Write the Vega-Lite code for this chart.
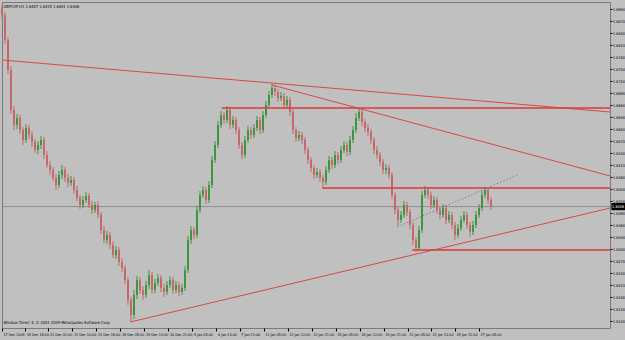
{
  "$schema": "https://vega.github.io/schema/vega-lite/v6.json",
  "width": 608,
  "height": 326,
  "autosize": {"type": "none"},
  "padding": {"left": 2, "top": 2, "right": 15, "bottom": 12},
  "background": "#c0c0c0",
  "config": {
    "view": {"stroke": "#7a7a7a", "fill": "#c0c0c0"},
    "font": "Liberation Sans"
  },
  "resolve": {"axis": {"x": "independent", "y": "independent"}},
  "datasets": {
    "bars": [
      {"i":0,"o":1.69025,"h":1.691,"l":1.6875,"c":1.6885},
      {"i":4,"o":1.6885,"h":1.68925,"l":1.68125,"c":1.68225},
      {"i":8,"o":1.68225,"h":1.683,"l":1.67375,"c":1.67475},
      {"i":12,"o":1.67475,"h":1.67575,"l":1.66375,"c":1.66475},
      {"i":16,"o":1.66475,"h":1.66575,"l":1.65975,"c":1.661},
      {"i":20,"o":1.661,"h":1.66375,"l":1.66,"c":1.66275},
      {"i":24,"o":1.66275,"h":1.6635,"l":1.65875,"c":1.65975},
      {"i":28,"o":1.65975,"h":1.6605,"l":1.656,"c":1.65725},
      {"i":32,"o":1.65725,"h":1.66125,"l":1.6565,"c":1.66025},
      {"i":36,"o":1.66025,"h":1.661,"l":1.6575,"c":1.6585},
      {"i":40,"o":1.6585,"h":1.6595,"l":1.6555,"c":1.65675},
      {"i":44,"o":1.65675,"h":1.6575,"l":1.654,"c":1.65475},
      {"i":48,"o":1.65475,"h":1.657,"l":1.65375,"c":1.656},
      {"i":52,"o":1.656,"h":1.65825,"l":1.655,"c":1.65725},
      {"i":56,"o":1.65725,"h":1.658,"l":1.6525,"c":1.6535},
      {"i":60,"o":1.6535,"h":1.6545,"l":1.65025,"c":1.651},
      {"i":64,"o":1.651,"h":1.652,"l":1.6485,"c":1.64975},
      {"i":68,"o":1.64975,"h":1.6505,"l":1.647,"c":1.64775},
      {"i":72,"o":1.64775,"h":1.64875,"l":1.64475,"c":1.646},
      {"i":76,"o":1.646,"h":1.6495,"l":1.64525,"c":1.6485},
      {"i":80,"o":1.6485,"h":1.651,"l":1.6475,"c":1.64975},
      {"i":84,"o":1.64975,"h":1.6505,"l":1.64675,"c":1.64775},
      {"i":88,"o":1.64775,"h":1.64875,"l":1.6455,"c":1.6465},
      {"i":92,"o":1.6465,"h":1.64825,"l":1.64575,"c":1.64725},
      {"i":96,"o":1.64725,"h":1.648,"l":1.64375,"c":1.64475},
      {"i":100,"o":1.64475,"h":1.64575,"l":1.642,"c":1.64275},
      {"i":104,"o":1.64275,"h":1.6435,"l":1.64,"c":1.641},
      {"i":108,"o":1.641,"h":1.64325,"l":1.64025,"c":1.64225},
      {"i":112,"o":1.64225,"h":1.64425,"l":1.6415,"c":1.64325},
      {"i":116,"o":1.64325,"h":1.644,"l":1.64025,"c":1.641},
      {"i":120,"o":1.641,"h":1.642,"l":1.63875,"c":1.63975},
      {"i":124,"o":1.63975,"h":1.64175,"l":1.639,"c":1.641},
      {"i":128,"o":1.641,"h":1.642,"l":1.63775,"c":1.6385},
      {"i":132,"o":1.6385,"h":1.63925,"l":1.63375,"c":1.63475},
      {"i":136,"o":1.63475,"h":1.63575,"l":1.6315,"c":1.63225},
      {"i":140,"o":1.63225,"h":1.6345,"l":1.63125,"c":1.6335},
      {"i":144,"o":1.6335,"h":1.63425,"l":1.63,"c":1.631},
      {"i":148,"o":1.631,"h":1.632,"l":1.62775,"c":1.6285},
      {"i":152,"o":1.6285,"h":1.63075,"l":1.6275,"c":1.62975},
      {"i":156,"o":1.62975,"h":1.6305,"l":1.62575,"c":1.62675},
      {"i":160,"o":1.62675,"h":1.62775,"l":1.62425,"c":1.62525},
      {"i":164,"o":1.62525,"h":1.626,"l":1.62125,"c":1.62225},
      {"i":168,"o":1.62225,"h":1.623,"l":1.616,"c":1.61725},
      {"i":172,"o":1.61725,"h":1.618,"l":1.61175,"c":1.6135},
      {"i":176,"o":1.6135,"h":1.61975,"l":1.6125,"c":1.6185},
      {"i":180,"o":1.6185,"h":1.62325,"l":1.6175,"c":1.62225},
      {"i":184,"o":1.62225,"h":1.623,"l":1.61875,"c":1.61975},
      {"i":188,"o":1.61975,"h":1.62075,"l":1.61725,"c":1.6185},
      {"i":192,"o":1.6185,"h":1.622,"l":1.61775,"c":1.621},
      {"i":196,"o":1.621,"h":1.62475,"l":1.62,"c":1.6235},
      {"i":200,"o":1.6235,"h":1.62425,"l":1.61875,"c":1.61975},
      {"i":204,"o":1.61975,"h":1.6225,"l":1.619,"c":1.6215},
      {"i":208,"o":1.6215,"h":1.62375,"l":1.62075,"c":1.62275},
      {"i":212,"o":1.62275,"h":1.6235,"l":1.61925,"c":1.62025},
      {"i":216,"o":1.62025,"h":1.62125,"l":1.618,"c":1.61925},
      {"i":220,"o":1.61925,"h":1.622,"l":1.6185,"c":1.621},
      {"i":224,"o":1.621,"h":1.62325,"l":1.62025,"c":1.62225},
      {"i":228,"o":1.62225,"h":1.623,"l":1.61875,"c":1.61975},
      {"i":232,"o":1.61975,"h":1.622,"l":1.619,"c":1.621},
      {"i":236,"o":1.621,"h":1.62175,"l":1.61825,"c":1.61925},
      {"i":240,"o":1.61925,"h":1.62125,"l":1.6185,"c":1.62025},
      {"i":244,"o":1.62025,"h":1.62575,"l":1.6195,"c":1.62475},
      {"i":248,"o":1.62475,"h":1.63325,"l":1.624,"c":1.63225},
      {"i":252,"o":1.63225,"h":1.63575,"l":1.63125,"c":1.63475},
      {"i":256,"o":1.63475,"h":1.6355,"l":1.6325,"c":1.6335},
      {"i":260,"o":1.6335,"h":1.64075,"l":1.63275,"c":1.63975},
      {"i":264,"o":1.63975,"h":1.6445,"l":1.639,"c":1.6435},
      {"i":268,"o":1.6435,"h":1.64575,"l":1.64275,"c":1.64475},
      {"i":272,"o":1.64475,"h":1.6455,"l":1.64125,"c":1.64225},
      {"i":276,"o":1.64225,"h":1.647,"l":1.6415,"c":1.646},
      {"i":280,"o":1.646,"h":1.65325,"l":1.64525,"c":1.65225},
      {"i":284,"o":1.65225,"h":1.657,"l":1.6515,"c":1.656},
      {"i":288,"o":1.656,"h":1.662,"l":1.65525,"c":1.661},
      {"i":292,"o":1.661,"h":1.6645,"l":1.66025,"c":1.6635},
      {"i":296,"o":1.6635,"h":1.66425,"l":1.66125,"c":1.66225},
      {"i":300,"o":1.66225,"h":1.66575,"l":1.6615,"c":1.66475},
      {"i":304,"o":1.66475,"h":1.6655,"l":1.66,"c":1.661},
      {"i":308,"o":1.661,"h":1.66325,"l":1.66025,"c":1.66225},
      {"i":312,"o":1.66225,"h":1.663,"l":1.65875,"c":1.65975},
      {"i":316,"o":1.65975,"h":1.6605,"l":1.655,"c":1.656},
      {"i":320,"o":1.656,"h":1.65675,"l":1.6525,"c":1.6535},
      {"i":324,"o":1.6535,"h":1.65825,"l":1.65275,"c":1.65725},
      {"i":328,"o":1.65725,"h":1.66075,"l":1.6565,"c":1.65975},
      {"i":332,"o":1.65975,"h":1.6605,"l":1.6575,"c":1.6585},
      {"i":336,"o":1.6585,"h":1.66125,"l":1.65775,"c":1.66025},
      {"i":340,"o":1.66025,"h":1.66325,"l":1.6595,"c":1.66225},
      {"i":344,"o":1.66225,"h":1.663,"l":1.65875,"c":1.65975},
      {"i":348,"o":1.65975,"h":1.6645,"l":1.659,"c":1.6635},
      {"i":352,"o":1.6635,"h":1.667,"l":1.66275,"c":1.666},
      {"i":356,"o":1.666,"h":1.6695,"l":1.66525,"c":1.6685},
      {"i":360,"o":1.6685,"h":1.67125,"l":1.66775,"c":1.67025},
      {"i":364,"o":1.67025,"h":1.671,"l":1.66825,"c":1.66925},
      {"i":368,"o":1.66925,"h":1.67,"l":1.66675,"c":1.66775},
      {"i":372,"o":1.66775,"h":1.66925,"l":1.667,"c":1.66825},
      {"i":376,"o":1.66825,"h":1.669,"l":1.665,"c":1.666},
      {"i":380,"o":1.666,"h":1.66825,"l":1.66525,"c":1.66725},
      {"i":384,"o":1.66725,"h":1.668,"l":1.66325,"c":1.66425},
      {"i":388,"o":1.66425,"h":1.665,"l":1.65875,"c":1.65975},
      {"i":392,"o":1.65975,"h":1.6605,"l":1.65675,"c":1.65775},
      {"i":396,"o":1.65775,"h":1.6595,"l":1.657,"c":1.6585},
      {"i":400,"o":1.6585,"h":1.65925,"l":1.65625,"c":1.65725},
      {"i":404,"o":1.65725,"h":1.658,"l":1.65375,"c":1.65475},
      {"i":408,"o":1.65475,"h":1.6555,"l":1.65125,"c":1.65225},
      {"i":412,"o":1.65225,"h":1.653,"l":1.64925,"c":1.65025},
      {"i":416,"o":1.65025,"h":1.651,"l":1.6475,"c":1.6485},
      {"i":420,"o":1.6485,"h":1.65025,"l":1.64775,"c":1.64925},
      {"i":424,"o":1.64925,"h":1.65,"l":1.64675,"c":1.64775},
      {"i":428,"o":1.64775,"h":1.6485,"l":1.6455,"c":1.64675},
      {"i":432,"o":1.64675,"h":1.65075,"l":1.646,"c":1.64975},
      {"i":436,"o":1.64975,"h":1.65325,"l":1.649,"c":1.65225},
      {"i":440,"o":1.65225,"h":1.653,"l":1.65,"c":1.651},
      {"i":444,"o":1.651,"h":1.6545,"l":1.65025,"c":1.6535},
      {"i":448,"o":1.6535,"h":1.65425,"l":1.65125,"c":1.65225},
      {"i":452,"o":1.65225,"h":1.65575,"l":1.6515,"c":1.65475},
      {"i":456,"o":1.65475,"h":1.657,"l":1.654,"c":1.656},
      {"i":460,"o":1.656,"h":1.65675,"l":1.65325,"c":1.65425},
      {"i":464,"o":1.65425,"h":1.65825,"l":1.6535,"c":1.65725},
      {"i":468,"o":1.65725,"h":1.66075,"l":1.6565,"c":1.65975},
      {"i":472,"o":1.65975,"h":1.664,"l":1.659,"c":1.66275},
      {"i":476,"o":1.66275,"h":1.66525,"l":1.662,"c":1.66425},
      {"i":480,"o":1.66425,"h":1.665,"l":1.66075,"c":1.66175},
      {"i":484,"o":1.66175,"h":1.6625,"l":1.65925,"c":1.66025},
      {"i":488,"o":1.66025,"h":1.66125,"l":1.65825,"c":1.65925},
      {"i":492,"o":1.65925,"h":1.66,"l":1.65625,"c":1.65725},
      {"i":496,"o":1.65725,"h":1.658,"l":1.65375,"c":1.65475},
      {"i":500,"o":1.65475,"h":1.65575,"l":1.6525,"c":1.6535},
      {"i":504,"o":1.6535,"h":1.65425,"l":1.65075,"c":1.65175},
      {"i":508,"o":1.65175,"h":1.6525,"l":1.64875,"c":1.64975},
      {"i":512,"o":1.64975,"h":1.65125,"l":1.64875,"c":1.65025},
      {"i":516,"o":1.65025,"h":1.651,"l":1.6475,"c":1.6485},
      {"i":520,"o":1.6485,"h":1.64925,"l":1.6425,"c":1.6435},
      {"i":524,"o":1.6435,"h":1.64425,"l":1.63875,"c":1.63975},
      {"i":528,"o":1.63975,"h":1.6405,"l":1.63575,"c":1.63725},
      {"i":532,"o":1.63725,"h":1.6395,"l":1.6365,"c":1.6385},
      {"i":536,"o":1.6385,"h":1.642,"l":1.63775,"c":1.641},
      {"i":540,"o":1.641,"h":1.64175,"l":1.63825,"c":1.63925},
      {"i":544,"o":1.63925,"h":1.64,"l":1.635,"c":1.636},
      {"i":548,"o":1.636,"h":1.63675,"l":1.631,"c":1.63225},
      {"i":552,"o":1.63225,"h":1.633,"l":1.62925,"c":1.63025},
      {"i":556,"o":1.63025,"h":1.63575,"l":1.6295,"c":1.63475},
      {"i":560,"o":1.63475,"h":1.6445,"l":1.634,"c":1.6435},
      {"i":564,"o":1.6435,"h":1.64575,"l":1.64275,"c":1.64475},
      {"i":568,"o":1.64475,"h":1.6455,"l":1.6425,"c":1.6435},
      {"i":572,"o":1.6435,"h":1.64425,"l":1.64,"c":1.641},
      {"i":576,"o":1.641,"h":1.64325,"l":1.64025,"c":1.64225},
      {"i":580,"o":1.64225,"h":1.643,"l":1.63875,"c":1.63975},
      {"i":584,"o":1.63975,"h":1.64075,"l":1.6375,"c":1.6385},
      {"i":588,"o":1.6385,"h":1.64125,"l":1.63775,"c":1.64025},
      {"i":592,"o":1.64025,"h":1.641,"l":1.63625,"c":1.63725},
      {"i":596,"o":1.63725,"h":1.6395,"l":1.6365,"c":1.6385},
      {"i":600,"o":1.6385,"h":1.63925,"l":1.635,"c":1.636},
      {"i":604,"o":1.636,"h":1.63675,"l":1.63225,"c":1.6335},
      {"i":608,"o":1.6335,"h":1.63625,"l":1.63275,"c":1.63525},
      {"i":612,"o":1.63525,"h":1.63825,"l":1.6345,"c":1.63725},
      {"i":616,"o":1.63725,"h":1.6395,"l":1.6365,"c":1.6385},
      {"i":620,"o":1.6385,"h":1.63925,"l":1.635,"c":1.636},
      {"i":624,"o":1.636,"h":1.63675,"l":1.633,"c":1.63425},
      {"i":628,"o":1.63425,"h":1.637,"l":1.6335,"c":1.636},
      {"i":632,"o":1.636,"h":1.6395,"l":1.63525,"c":1.6385},
      {"i":636,"o":1.6385,"h":1.64125,"l":1.63775,"c":1.64025},
      {"i":640,"o":1.64025,"h":1.6445,"l":1.6395,"c":1.6435},
      {"i":644,"o":1.6435,"h":1.6455,"l":1.64275,"c":1.64475},
      {"i":648,"o":1.64475,"h":1.64525,"l":1.64125,"c":1.64225},
      {"i":652,"o":1.64225,"h":1.643,"l":1.63975,"c":1.6405}
    ],
    "trend": [
      {"i1":0,"p1":1.67725,"i2":811,"p2":1.66425},
      {"i1":360,"p1":1.671,"i2":811,"p2":1.64825},
      {"i1":171,"p1":1.61175,"i2":811,"p2":1.64025}
    ],
    "levels": [
      {"i1":293,"i2":811,"p":1.66525},
      {"i1":427,"i2":811,"p":1.64525},
      {"i1":547,"i2":811,"p":1.62975}
    ],
    "channel": [
      {"i1":527,"p1":1.6355,"i2":687,"p2":1.6485}
    ],
    "current": [{"price":1.6406}],
    "header": [{"text":"GBPCHF,H1  1.6407 1.6415 1.6401 1.6406"}],
    "footer": [{"text":"Windsor Direct 4, © 2001-2009 MetaQuotes Software Corp."}]
  },
  "layer": [
    {
      "data": {"name": "current"},
      "mark": {"type": "rule", "color": "#8e8e8e", "strokeWidth": 1},
      "encoding": {
        "y": {"field": "price", "type": "quantitative", "scale": {"domain": [1.61025, 1.69175], "nice": false, "zero": false}, "axis": null}
      }
    },
    {
      "data": {"name": "bars"},
      "mark": {"type": "rule", "strokeWidth": 1},
      "encoding": {
        "x": {
          "field": "i", "type": "quantitative",
          "scale": {"domain": [0, 810.67], "nice": false, "zero": false},
          "axis": {
            "title": null, "orient": "bottom", "grid": false, "domain": false,
            "values": [0,31,62,94,126,158,190,222,254,286,317,349,381,413,445,477,509,541,572,604,636],
            "labelExpr": "['17 Dec 2009','18 Dec 18:00','21 Dec 02:00','22 Dec 10:00','23 Dec 18:00','28 Dec 05:00','29 Dec 13:00','30 Dec 21:00','5 Jan 05:00','6 Jan 13:00','7 Jan 21:00','11 Jan 05:00','12 Jan 13:00','13 Jan 21:00','15 Jan 05:00','18 Jan 13:00','19 Jan 21:00','21 Jan 05:00','22 Jan 13:00','25 Jan 21:00','27 Jan 05:00'][indexof([0,31,62,94,126,158,190,222,254,286,317,349,381,413,445,477,509,541,572,604,636], datum.value)]",
            "labelAlign": "left", "labelBaseline": "top", "labelPadding": 1.5, "labelOffset": 1,
            "labelFontSize": 3.7, "labelColor": "#000000", "labelFont": "Liberation Sans Narrow, DejaVu Sans Condensed, Liberation Sans",
            "tickSize": 3, "tickColor": "#000000", "labelOverlap": false, "labelFlush": false
          }
        },
        "y": {
          "field": "l", "type": "quantitative",
          "scale": {"domain": [1.61025, 1.69175], "nice": false, "zero": false},
          "axis": {
            "title": null, "orient": "right", "grid": false, "domain": false,
            "values": [1.69,1.687,1.684,1.681,1.678,1.675,1.672,1.669,1.666,1.663,1.66,1.657,1.654,1.651,1.648,1.645,1.642,1.639,1.636,1.633,1.63,1.627,1.624,1.621,1.618,1.615,1.612],
            "format": ".4f", "labelFontSize": 3.8, "labelColor": "#000000",
            "labelFont": "Liberation Sans Narrow, DejaVu Sans Condensed, Liberation Sans",
            "labelPadding": 0.5, "tickSize": 2, "tickColor": "#000000", "labelOverlap": false, "labelFlush": false
          }
        },
        "y2": {"field": "h"},
        "color": {"condition": {"test": "datum.c >= datum.o", "value": "#3f953f"}, "value": "#c46868"}
      }
    },
    {
      "data": {"name": "bars"},
      "mark": {"type": "rule", "strokeWidth": 2},
      "encoding": {
        "x": {"field": "i", "type": "quantitative", "scale": {"domain": [0, 810.67], "nice": false, "zero": false}, "axis": null},
        "y": {"field": "o", "type": "quantitative", "scale": {"domain": [1.61025, 1.69175], "nice": false, "zero": false}, "axis": null},
        "y2": {"field": "c"},
        "color": {"condition": {"test": "datum.c >= datum.o", "value": "#3f953f"}, "value": "#c46868"}
      }
    },
    {
      "data": {"name": "trend"},
      "mark": {"type": "rule", "color": "#d84848", "strokeWidth": 1, "clip": true},
      "encoding": {
        "x": {"field": "i1", "type": "quantitative", "scale": {"domain": [0, 810.67], "nice": false, "zero": false}, "axis": null},
        "x2": {"field": "i2"},
        "y": {"field": "p1", "type": "quantitative", "scale": {"domain": [1.61025, 1.69175], "nice": false, "zero": false}, "axis": null},
        "y2": {"field": "p2"}
      }
    },
    {
      "data": {"name": "levels"},
      "mark": {"type": "rule", "color": "#dd3a3a", "strokeWidth": 1.6, "clip": true},
      "encoding": {
        "x": {"field": "i1", "type": "quantitative", "scale": {"domain": [0, 810.67], "nice": false, "zero": false}, "axis": null},
        "x2": {"field": "i2"},
        "y": {"field": "p", "type": "quantitative", "scale": {"domain": [1.61025, 1.69175], "nice": false, "zero": false}, "axis": null}
      }
    },
    {
      "data": {"name": "channel"},
      "mark": {"type": "rule", "color": "#6d7f9e", "strokeWidth": 1, "strokeDash": [1.5, 2]},
      "encoding": {
        "x": {"field": "i1", "type": "quantitative", "scale": {"domain": [0, 810.67], "nice": false, "zero": false}, "axis": null},
        "x2": {"field": "i2"},
        "y": {"field": "p1", "type": "quantitative", "scale": {"domain": [1.61025, 1.69175], "nice": false, "zero": false}, "axis": null},
        "y2": {"field": "p2"}
      }
    },
    {
      "data": {"name": "current"},
      "mark": {"type": "rect", "color": "#000000"},
      "encoding": {
        "x": {"datum": 812.5, "type": "quantitative", "scale": {"domain": [0, 810.67], "nice": false, "zero": false}, "axis": null},
        "x2": {"datum": 831},
        "y": {"datum": 1.6415, "type": "quantitative", "scale": {"domain": [1.61025, 1.69175], "nice": false, "zero": false}, "axis": null},
        "y2": {"datum": 1.6397}
      }
    },
    {
      "data": {"name": "current"},
      "mark": {"type": "text", "color": "#ffffff", "align": "left", "baseline": "middle", "fontSize": 3.8, "font": "Liberation Sans Narrow, DejaVu Sans Condensed, Liberation Sans"},
      "encoding": {
        "x": {"datum": 813.5, "type": "quantitative", "scale": {"domain": [0, 810.67], "nice": false, "zero": false}, "axis": null},
        "y": {"field": "price", "type": "quantitative", "scale": {"domain": [1.61025, 1.69175], "nice": false, "zero": false}, "axis": null},
        "text": {"field": "price", "type": "quantitative", "format": ".4f"}
      }
    },
    {
      "data": {"name": "header"},
      "mark": {"type": "text", "color": "#000000", "align": "left", "baseline": "middle", "fontSize": 4, "font": "Liberation Sans Narrow, DejaVu Sans Condensed, Liberation Sans"},
      "encoding": {
        "x": {"datum": 2, "type": "quantitative", "scale": {"domain": [0, 810.67], "nice": false, "zero": false}, "axis": null},
        "y": {"datum": 1.6905, "type": "quantitative", "scale": {"domain": [1.61025, 1.69175], "nice": false, "zero": false}, "axis": null},
        "text": {"field": "text", "type": "nominal"}
      }
    },
    {
      "data": {"name": "footer"},
      "mark": {"type": "text", "color": "#000000", "align": "left", "baseline": "middle", "fontSize": 4, "font": "Liberation Sans Narrow, DejaVu Sans Condensed, Liberation Sans"},
      "encoding": {
        "x": {"datum": 2, "type": "quantitative", "scale": {"domain": [0, 810.67], "nice": false, "zero": false}, "axis": null},
        "y": {"datum": 1.6115, "type": "quantitative", "scale": {"domain": [1.61025, 1.69175], "nice": false, "zero": false}, "axis": null},
        "text": {"field": "text", "type": "nominal"}
      }
    }
  ]
}
